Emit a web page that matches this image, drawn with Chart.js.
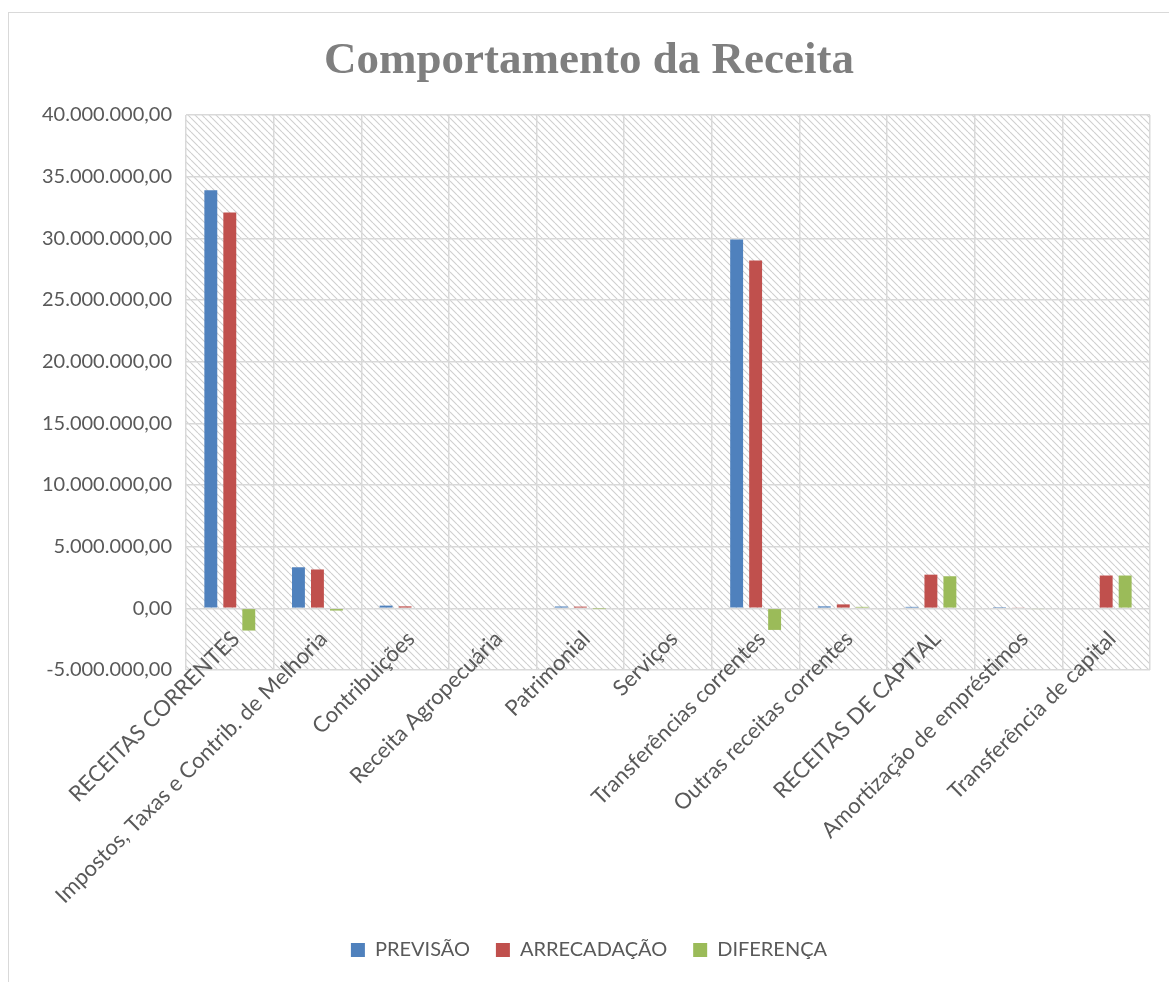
<!DOCTYPE html>
<html>
<head>
<meta charset="utf-8">
<script src="https://cdn.jsdelivr.net/npm/chart.js@4/dist/chart.umd.min.js"></script>
<style>
  html, body { margin: 0; padding: 0; background: #fff; }
  #frame {
    position: absolute; left: 8px; top: 12px;
    width: 1161px; height: 970px;
    border: 1px solid #d9d9d9; border-right: none; border-bottom: none;
  }
  canvas { display: block; }
</style>
</head>
<body>
<div id="frame"><canvas id="chart" width="1160" height="969"></canvas></div>
<script>
// Categories and series (values in R$)
const categories = [
  "RECEITAS CORRENTES",
  "Impostos, Taxas e Contrib. de Melhoria",
  "Contribuições",
  "Receita Agropecuária",
  "Patrimonial",
  "Serviços",
  "Transferências correntes",
  "Outras receitas correntes",
  "RECEITAS DE CAPITAL",
  "Amortização de empréstimos",
  "Transferência de capital",
];

const previsao    = [33900000, 3330000, 220000, 0, 150000, 0, 29900000, 160000, 120000, 100000, 0];
const arrecadacao = [32100000, 3150000, 160000, 0, 140000, 0, 28200000, 320000, 2730000, 50000, 2660000];
const diferenca   = [-1800000, -180000, -60000, 0, -10000, 0, -1750000, 120000, 2600000, -50000, 2660000];

const yTicks = { min: -5000000, max: 40000000, step: 5000000 };

const FONT = "Lato, 'Open Sans', sans-serif";
const TEXT = "#595959";

// "40.000.000,00" style
function fmtBR(v) {
  const neg = v < 0;
  const s = Math.abs(Math.round(v)).toString().replace(/\B(?=(\d{3})+(?!\d))/g, ".");
  return (neg ? "-" : "") + s + ",00";
}

// Hatched plot background
function makeHatch(ctx) {
  const s = 7;
  const c = document.createElement("canvas");
  c.width = s; c.height = s;
  const g = c.getContext("2d");
  g.fillStyle = "#ffffff";
  g.fillRect(0, 0, s, s);
  g.strokeStyle = "#cfcfcf";
  g.lineWidth = 1.1;
  g.beginPath();
  for (const k of [-s, 0, s]) {
    g.moveTo(k, 0);
    g.lineTo(k + s, s);
  }
  g.stroke();
  return ctx.createPattern(c, "repeat");
}

const hatchPlugin = {
  id: "hatch",
  beforeDraw(chart) {
    const { ctx, chartArea: a } = chart;
    ctx.save();
    ctx.fillStyle = makeHatch(ctx);
    ctx.fillRect(a.left, a.top, a.right - a.left, a.bottom - a.top);
    ctx.restore();
  },
};

// Category labels sit next to the zero line (like the spreadsheet), rotated 45deg
const zeroLabels = {
  id: "zeroLabels",
  afterDraw(chart) {
    const { ctx, scales } = chart;
    const y0 = scales.y.getPixelForValue(0);
    ctx.save();
    ctx.font = "22px " + FONT;
    ctx.fillStyle = TEXT;
    ctx.textAlign = "right";
    ctx.textBaseline = "middle";
    categories.forEach((lab, i) => {
      const x = scales.x.getPixelForValue(i);
      ctx.save();
      ctx.translate(x + 6, y0 + 27);
      ctx.rotate(-Math.PI / 4);
      ctx.fillText(lab, 0, 0);
      ctx.restore();
    });
    ctx.restore();
  },
};

Chart.defaults.font.family = FONT;
Chart.defaults.color = TEXT;

const ctx = document.getElementById("chart").getContext("2d");

new Chart(ctx, {
  type: "bar",
  data: {
    labels: categories,
    datasets: [
      { label: "PREVISÃO", data: previsao, backgroundColor: "#4F81BD" },
      { label: "ARRECADAÇÃO", data: arrecadacao, backgroundColor: "#C0504D" },
      { label: "DIFERENÇA", data: diferenca, backgroundColor: "#9BBB59" },
    ],
  },
  options: {
    responsive: false,
    animation: false,
    layout: { padding: { left: 19, right: 19, top: 0, bottom: 12 } },
    datasets: {
      bar: { categoryPercentage: 0.65, barPercentage: 0.68 },
    },
    plugins: {
      title: {
        display: true,
        text: "Comportamento da Receita",
        color: "#7f7f7f",
        font: { family: "'Liberation Serif', serif", size: 45, weight: "bold" },
        padding: { top: 21, bottom: 27 },
      },
      legend: {
        position: "bottom",
        labels: {
          boxWidth: 14,
          boxHeight: 14,
          padding: 26,
          color: TEXT,
          font: { size: 20 },
        },
      },
      tooltip: { enabled: false },
    },
    scales: {
      x: {
        grid: { color: "#d9d9d9", lineWidth: 1.5, drawTicks: false },
        border: { display: false },
        ticks: { display: false },
        afterFit: (scale) => { scale.height = 244; },
      },
      y: {
        min: yTicks.min,
        max: yTicks.max,
        grid: { color: "#d9d9d9", lineWidth: 1.5, drawTicks: false },
        border: { display: false },
        ticks: {
          stepSize: yTicks.step,
          color: TEXT,
          font: { size: 20 },
          padding: 14,
          callback: (v) => fmtBR(v),
        },
      },
    },
  },
  plugins: [hatchPlugin, zeroLabels],
});
</script>
</body>
</html>
